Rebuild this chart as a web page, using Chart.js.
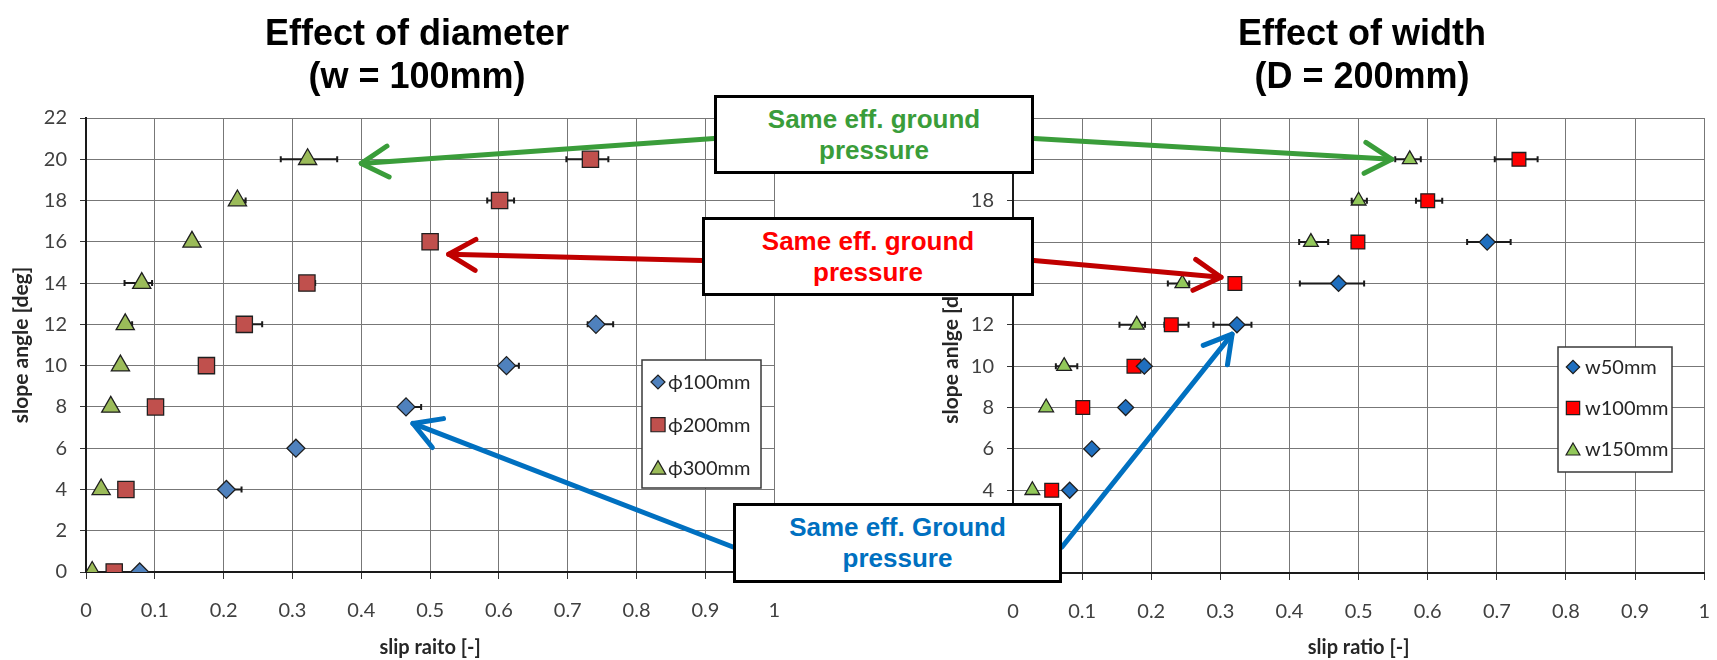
<!DOCTYPE html>
<html>
<head>
<meta charset="utf-8">
<title>Effect of diameter and width</title>
<script src="https://cdn.jsdelivr.net/npm/chart.js@4.4.1/dist/chart.umd.min.js"></script>
<style>
html, body { margin: 0; padding: 0; background: #fff; width: 1717px; height: 660px; overflow: hidden; }
#page { position: relative; width: 1717px; height: 660px; }
canvas { position: absolute; top: 0; }
#chartDiameter { left: 0; z-index: 1; }
#chartWidth { left: 930px; z-index: 1; }
#arrows { left: 0; z-index: 2; }
.title { position: absolute; top: 11px; width: 500px; text-align: center; color: #000; z-index: 3;
  font: bold 36px "Liberation Sans", Arial, sans-serif; line-height: 43px; }
.note { position: absolute; box-sizing: border-box; border: 3px solid #000; background: #fff; z-index: 3;
  display: flex; align-items: center; justify-content: center; text-align: center;
  font: bold 26px "Liberation Sans", Arial, sans-serif; line-height: 31px; }
#noteGreen { left: 714px; top: 95px; width: 320px; height: 79px; color: #3a9d3a; }
#noteRed { left: 702px; top: 217px; width: 332px; height: 79px; color: #ff0000; }
#noteBlue { left: 733px; top: 503px; width: 329px; height: 80px; color: #0070c0; }
</style>
</head>
<body>
<div id="page">
  <div class="title" style="left:167px">Effect of diameter<br>(w = 100mm)</div>
  <div class="title" style="left:1112px">Effect of width<br>(D = 200mm)</div>
  <canvas id="chartDiameter" width="800" height="660"></canvas>
  <canvas id="chartWidth" width="800" height="660"></canvas>
  <canvas id="arrows" width="1717" height="660"></canvas>
  <div class="note" id="noteGreen">Same eff. ground<br>pressure</div>
  <div class="note" id="noteRed">Same eff. ground<br>pressure</div>
  <div class="note" id="noteBlue">Same eff. Ground<br>pressure</div>
</div>
<script>
// axis ticks
const xTickLabels = ['0', '0.1', '0.2', '0.3', '0.4', '0.5', '0.6', '0.7', '0.8', '0.9', '1'];
const yTickLabels = ['0', '2', '4', '6', '8', '10', '12', '14', '16', '18', '20', '22'];

// left chart: effect of diameter (w = 100mm)
const slopeD100 = [0, 4, 6, 8, 10, 12];
const slipD100 = [0.078, 0.204, 0.305, 0.465, 0.611, 0.741];
const errD100 = [[0, 0], [0, 0.022], [0, 0], [0, 0.022], [0, 0.018], [0.012, 0.025]];

const slopeD200 = [0, 4, 8, 10, 12, 14, 16, 18, 20];
const slipD200 = [0.041, 0.058, 0.101, 0.175, 0.230, 0.321, 0.500, 0.601, 0.733];
const errD200 = [[0, 0], [0, 0], [0, 0], [0, 0], [0, 0.026], [0, 0.012], [0, 0], [0.018, 0.021], [0.035, 0.026]];

const slopeD300 = [0, 4, 8, 10, 12, 14, 16, 18, 20];
const slipD300 = [0.009, 0.022, 0.036, 0.050, 0.057, 0.081, 0.154, 0.220, 0.322];
const errD300 = [[0, 0], [0, 0], [0, 0], [0, 0], [0, 0.010], [0.025, 0.015], [0, 0], [0, 0.012], [0.039, 0.043]];

// right chart: effect of width (D = 200mm)
const slopeW50 = [4, 6, 8, 10, 12, 14, 16];
const slipW50 = [0.082, 0.114, 0.163, 0.190, 0.324, 0.471, 0.686];
const errW50 = [[0, 0], [0, 0], [0, 0], [0, 0], [0.034, 0.021], [0.056, 0.037], [0.029, 0.034]];

const slopeW100 = [4, 8, 10, 12, 14, 16, 18, 20];
const slipW100 = [0.056, 0.101, 0.175, 0.229, 0.321, 0.499, 0.600, 0.732];
const errW100 = [[0, 0], [0, 0], [0, 0], [0.010, 0.025], [0, 0.008], [0, 0], [0.017, 0.021], [0.035, 0.027]];

const slopeW150 = [4, 8, 10, 12, 14, 16, 18, 20];
const slipW150 = [0.028, 0.048, 0.074, 0.179, 0.245, 0.431, 0.500, 0.574];
const errW150 = [[0, 0], [0, 0], [0.012, 0.019], [0.025, 0.012], [0.021, 0.010], [0.017, 0.025], [0.010, 0.012], [0.021, 0.016]];

// where each annotation arrow points, in the target chart's data units
const arrowGreenLeft = [0.400, 19.8];
const arrowGreenRight = [0.548, 20.0];
const arrowRedLeft = [0.527, 15.4];
const arrowRedRight = [0.301, 14.3];
const arrowBlueLeft = [0.475, 7.2];
const arrowBlueRight = [0.317, 11.55];

const tickFont = { family: 'Lato', size: 20 };
const xTitleFont = { family: 'Lato', size: 20, weight: 'bold' };
const yTitleFont = { family: 'Lato', size: 21, weight: 'bold' };
const gridColor = '#777';

function points(xs, ys) {
    return xs.map((v, i) => ({ x: v, y: ys[i] }));
}

function series(label, xs, ys, err, style, radius, legendRadius, fill) {
    return {
        label: label,
        data: points(xs, ys),
        xErr: err,
        pointStyle: style,
        pointRadius: radius,
        legendRadius: legendRadius,
        backgroundColor: fill,
        borderColor: '#1f1f1f',
        borderWidth: 1.3,
        showLine: false
    };
}

function drawMarker(ctx, style, r, x, y) {
    ctx.beginPath();
    if (style === 'rectRot') {
        ctx.moveTo(x - r, y); ctx.lineTo(x, y - r); ctx.lineTo(x + r, y); ctx.lineTo(x, y + r);
        ctx.closePath();
    } else if (style === 'rect') {
        const s = r * Math.SQRT1_2;
        ctx.rect(x - s, y - s, 2 * s, 2 * s);
    } else {
        ctx.moveTo(x, y - 0.75 * r); ctx.lineTo(x + 0.866 * r, y + 0.75 * r); ctx.lineTo(x - 0.866 * r, y + 0.75 * r);
        ctx.closePath();
    }
    ctx.fill();
    ctx.stroke();
}

// horizontal error bars, drawn under the markers
const errorBars = {
    id: 'errorBars',
    beforeDatasetsDraw(chart) {
        const { ctx, scales: { x, y } } = chart;
        ctx.save();
        ctx.strokeStyle = '#1a1a1a';
        ctx.lineWidth = 2;
        chart.data.datasets.forEach(ds => {
            ds.data.forEach((p, i) => {
                const e = ds.xErr[i];
                if (!e[0] && !e[1]) return;
                const py = y.getPixelForValue(p.y);
                const xl = x.getPixelForValue(p.x - e[0]);
                const xr = x.getPixelForValue(p.x + e[1]);
                ctx.beginPath();
                ctx.moveTo(xl, py); ctx.lineTo(xr, py);
                if (e[0]) { ctx.moveTo(xl, py - 3); ctx.lineTo(xl, py + 3); }
                if (e[1]) { ctx.moveTo(xr, py - 3); ctx.lineTo(xr, py + 3); }
                ctx.stroke();
            });
        });
        ctx.restore();
    }
};

// boxed legend sitting inside the plot area
const boxLegend = {
    id: 'boxLegend',
    afterDraw(chart, args, opts) {
        const { ctx, chartArea } = chart;
        const bx = chartArea.left + opts.left, by = chartArea.top + opts.top;
        ctx.save();
        ctx.fillStyle = '#fff';
        ctx.fillRect(bx, by, opts.width, opts.height);
        ctx.strokeStyle = '#3a3a3a';
        ctx.lineWidth = 1.5;
        ctx.strokeRect(bx, by, opts.width, opts.height);
        chart.data.datasets.forEach((ds, i) => {
            const ry = by + opts.firstRow + i * opts.rowGap;
            ctx.fillStyle = ds.backgroundColor;
            ctx.strokeStyle = ds.borderColor;
            ctx.lineWidth = 1.2;
            drawMarker(ctx, ds.pointStyle, ds.legendRadius, bx + opts.markerX, ry);
            ctx.fillStyle = '#262626';
            ctx.font = '20px Lato';
            ctx.textBaseline = 'middle';
            ctx.textAlign = 'left';
            ctx.fillText(ds.label, bx + opts.textX, ry + 1);
        });
        ctx.restore();
    }
};

function axes(xTitle, yTitle, yWidth, xHeight) {
    return {
        x: {
            type: 'linear', min: 0, max: 1,
            ticks: { stepSize: 0.1, autoSkip: false, maxRotation: 0, padding: 20, color: '#404040', font: tickFont,
                     callback: (v, i) => xTickLabels[i] },
            grid: { color: gridColor, lineWidth: 1, tickLength: 7, tickColor: '#333' },
            border: { color: '#1a1a1a', width: 2 },
            title: { display: true, text: xTitle, color: '#262626', font: xTitleFont, padding: { top: 0, bottom: 0 } },
            afterFit: s => { s.height = xHeight; }
        },
        y: {
            type: 'linear', min: 0, max: 22,
            ticks: { stepSize: 2, autoSkip: false, padding: 13, color: '#404040', font: tickFont,
                     callback: (v, i) => yTickLabels[i] },
            grid: { color: gridColor, lineWidth: 1, tickLength: 6, tickColor: '#333' },
            border: { color: '#1a1a1a', width: 2 },
            title: { display: true, text: yTitle, color: '#262626', font: yTitleFont, padding: { top: 9, bottom: 0 } },
            afterFit: s => { s.width = yWidth; }
        }
    };
}

const chartDiameter = new Chart(document.getElementById('chartDiameter'), {
    type: 'scatter',
    data: {
        datasets: [
            series('ϕ100mm', slipD100, slopeD100, errD100, 'rectRot', 9, 7, '#4f81bd'),
            series('ϕ200mm', slipD200, slopeD200, errD200, 'rect', 11.5, 10, '#c0504d'),
            series('ϕ300mm', slipD300, slopeD300, errD300, 'triangle', 10.5, 9, '#9bbb59')
        ]
    },
    options: {
        responsive: false,
        animation: false,
        events: [],
        layout: { padding: { top: 118, right: 21, bottom: 0, left: 0 } },
        scales: axes('slip raito [-]', 'slope angle [deg]', 86, 88),
        plugins: {
            legend: { display: false },
            tooltip: { enabled: false },
            boxLegend: { left: 556, top: 242, width: 119, height: 128, firstRow: 22, rowGap: 42.7, markerX: 16, textX: 26 }
        }
    },
    plugins: [errorBars, boxLegend]
});

const chartWidth = new Chart(document.getElementById('chartWidth'), {
    type: 'scatter',
    data: {
        datasets: [
            series('w50mm', slipW50, slopeW50, errW50, 'rectRot', 8, 6.7, '#1f6fbf'),
            series('w100mm', slipW100, slopeW100, errW100, 'rect', 9.7, 9.4, '#ff0000'),
            series('w150mm', slipW150, slopeW150, errW150, 'triangle', 8.5, 8, '#92c85a')
        ]
    },
    options: {
        responsive: false,
        animation: false,
        events: [],
        layout: { padding: { top: 118, right: 17, bottom: 0, left: 0 } },
        scales: axes('slip ratio [-]', 'slope anlge [deg]', 83, 87),
        plugins: {
            legend: { display: false },
            tooltip: { enabled: false },
            boxLegend: { left: 545, top: 229, width: 114, height: 125, firstRow: 20, rowGap: 41, markerX: 15, textX: 27 }
        }
    },
    plugins: [errorBars, boxLegend]
});

// annotation arrows from the note boxes to the charts
function tipPixel(chart, tip) {
    const c = chart.canvas;
    return [c.offsetLeft + chart.scales.x.getPixelForValue(tip[0]), c.offsetTop + chart.scales.y.getPixelForValue(tip[1])];
}

function boxEdge(id, side) {
    const el = document.getElementById(id);
    const x = side === 'left' ? el.offsetLeft : el.offsetLeft + el.offsetWidth;
    return [x, el.offsetTop + el.offsetHeight * 0.55];
}

function drawArrow(ctx, from, to, color) {
    const ang = Math.atan2(to[1] - from[1], to[0] - from[0]);
    const head = 31, spread = Math.PI / 6;
    ctx.strokeStyle = color;
    ctx.lineWidth = 5;
    ctx.lineCap = 'round';
    ctx.lineJoin = 'round';
    ctx.beginPath();
    ctx.moveTo(from[0], from[1]);
    ctx.lineTo(to[0], to[1]);
    ctx.stroke();
    ctx.beginPath();
    ctx.moveTo(to[0] - head * Math.cos(ang - spread), to[1] - head * Math.sin(ang - spread));
    ctx.lineTo(to[0], to[1]);
    ctx.lineTo(to[0] - head * Math.cos(ang + spread), to[1] - head * Math.sin(ang + spread));
    ctx.stroke();
}

const actx = document.getElementById('arrows').getContext('2d');
drawArrow(actx, boxEdge('noteGreen', 'left'), tipPixel(chartDiameter, arrowGreenLeft), '#3a9d3a');
drawArrow(actx, boxEdge('noteGreen', 'right'), tipPixel(chartWidth, arrowGreenRight), '#3a9d3a');
drawArrow(actx, boxEdge('noteRed', 'left'), tipPixel(chartDiameter, arrowRedLeft), '#c00000');
drawArrow(actx, boxEdge('noteRed', 'right'), tipPixel(chartWidth, arrowRedRight), '#c00000');
drawArrow(actx, boxEdge('noteBlue', 'left'), tipPixel(chartDiameter, arrowBlueLeft), '#0070c0');
drawArrow(actx, boxEdge('noteBlue', 'right'), tipPixel(chartWidth, arrowBlueRight), '#0070c0');
</script>
</body>
</html>
